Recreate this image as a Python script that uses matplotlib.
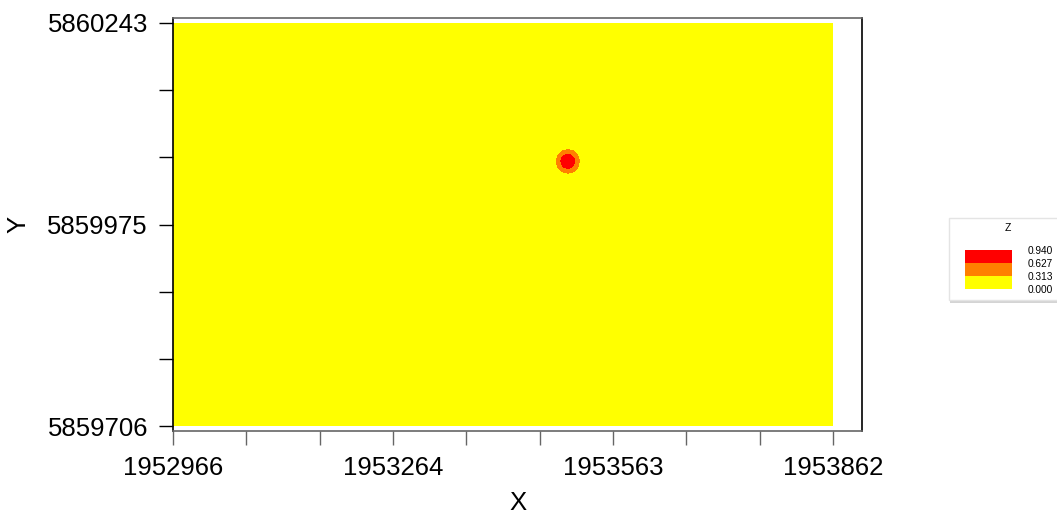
import numpy as np
import matplotlib
matplotlib.use("Agg")
import matplotlib.pyplot as plt
from matplotlib.patches import Rectangle

plt.rcParams['font.family'] = ['Liberation Sans', 'DejaVu Sans']

# grid extent (map coordinates)
x_min, x_max = 1952966, 1953862
y_min, y_max = 5859706, 5860243

# tick labels shown on the axes
x_tick_labels = ["1952966", "1953264", "1953563", "1953862"]
y_tick_labels = ["5859706", "5859975", "5860243"]

# contour levels and fill colours
levels = [0.000, 0.313, 0.627, 0.940]
fill_colors = ["#FFFF00", "#FF8000", "#FF0000"]

# the single anomaly: location and z values on the grid nodes around it
spot_x, spot_y = 1953500, 5860060
spot_patch = [
    [0.00, 0.20, 0.30, 0.20, 0.00],
    [0.20, 0.58, 0.70, 0.58, 0.20],
    [0.30, 0.70, 0.93, 0.70, 0.30],
    [0.20, 0.58, 0.70, 0.58, 0.20],
    [0.00, 0.20, 0.30, 0.20, 0.00],
]

# build grid (everything else is 0)
gx = np.linspace(x_min, x_max, 113)
gy = np.linspace(y_min, y_max, 68)
Z = np.zeros((len(gy), len(gx)))
patch = np.array(spot_patch)
ix = int(np.argmin(np.abs(gx - spot_x)))
iy = int(np.argmin(np.abs(gy - spot_y)))
h = patch.shape[0] // 2
Z[iy - h:iy + h + 1, ix - h:ix + h + 1] = patch

fig = plt.figure(figsize=(10.57, 5.15), dpi=100)
ax = fig.add_axes([173 / 1057, 84 / 515, 689 / 1057, 413 / 515])

cf = ax.contourf(gx, gy, Z, levels=levels, colors=fill_colors, antialiased=False)

dx = (x_max - x_min) / 660
dy = (y_max - y_min) / 403
ax.set_xlim(x_min, x_min + 689 * dx)
ax.set_ylim(y_min - 5 * dy, y_max + 5 * dy)

xt = np.linspace(x_min, x_max, 10)
yt = np.linspace(y_min, y_max, 7)
ax.set_xticks(xt)
ax.set_xticklabels([x_tick_labels[i // 3] if i % 3 == 0 else "" for i in range(len(xt))])
ax.set_yticks(yt)
ax.set_yticklabels([y_tick_labels[i // 3] if i % 3 == 0 else "" for i in range(len(yt))])

ax.tick_params(direction='out', length=10, width=1, labelsize=18.5, pad=8)
ax.tick_params(axis='x', color='#666666')
for side in ['top', 'bottom']:
    ax.spines[side].set_color('#666666')
for side in ['left', 'right']:
    ax.spines[side].set_color('black')
for s in ax.spines.values():
    s.set_linewidth(1.2)

fig.text(518 / 1057, 0.5 / 515, "X", fontsize=18.5, ha='center', va='bottom')
fig.text(18 / 1057, 1 - 224 / 515, "Y", fontsize=18.5, ha='center', va='center', rotation=90)

# legend box
fig.patches.append(Rectangle((950 / 1057, 1 - 303 / 515), 120 / 1057, 84 / 515,
                             transform=fig.transFigure, facecolor='#d4d4d4',
                             edgecolor='none', zorder=0))
fig.patches.append(Rectangle((949 / 1057, 1 - 300 / 515), 120 / 1057, 82 / 515,
                             transform=fig.transFigure, facecolor='white',
                             edgecolor='#e4e4e4', linewidth=1, zorder=0))
fig.text(1008 / 1057, 1 - 228 / 515, "Z", fontsize=7.5, ha='center', va='center')

cax = fig.add_axes([965 / 1057, 1 - 289 / 515, 47 / 1057, 39 / 515])
cax.set_zorder(5)
cbar = fig.colorbar(cf, cax=cax, ticks=levels)
cbar.outline.set_visible(False)
cbar.ax.set_yticklabels([f"{v:.3f}" for v in levels])
cax.tick_params(length=0, pad=11, labelsize=7.3)

fig.savefig("out.png", dpi=100)
